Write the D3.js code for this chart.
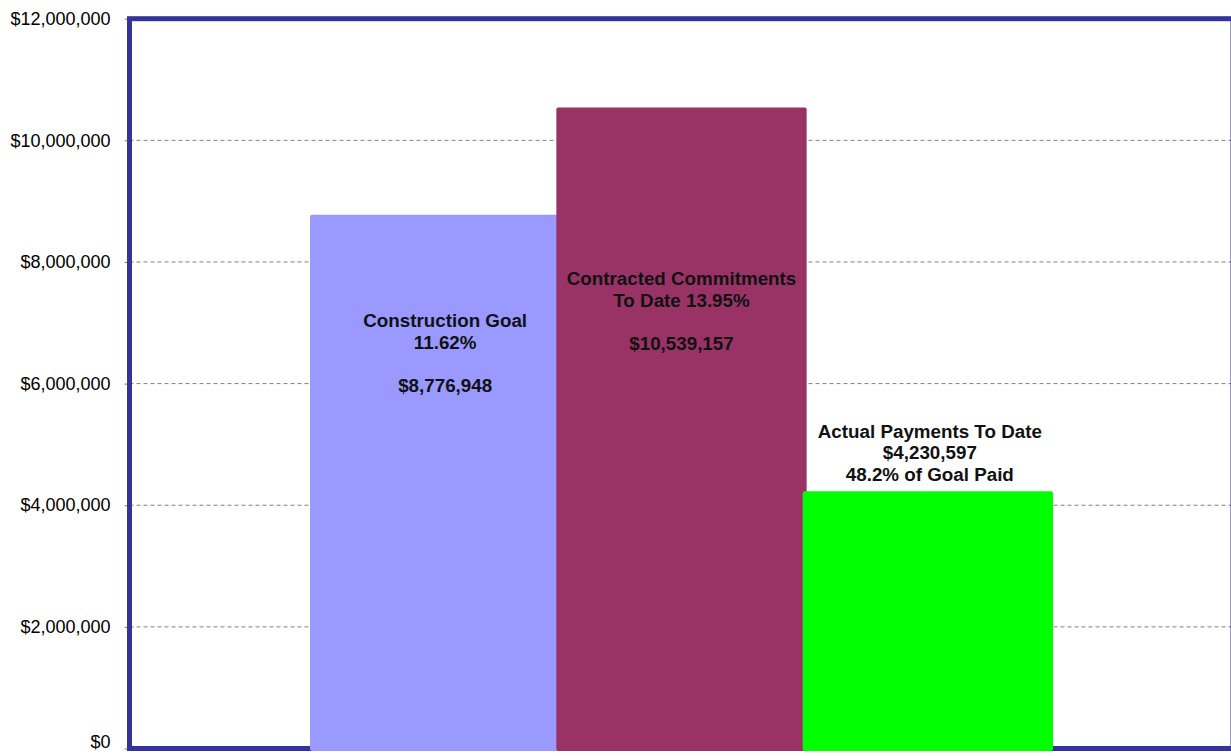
<!DOCTYPE html>
<html>
<head>
<meta charset="utf-8">
<script src="https://cdn.jsdelivr.net/npm/d3@7"></script>
<style>
  html, body { margin: 0; padding: 0; background: #fff; }
  svg { display: block; font-family: "Liberation Sans", Arial, sans-serif; }
</style>
</head>
<body>
<svg id="chart" width="1231" height="756"></svg>
<script>
// ---- data ----
const categories = ["Construction Goal", "Contracted Commitments", "Actual Payments"];
const values = [8776948, 10539157, 4230597];
const barColors = ["#9999FF", "#993366", "#00FF00"];
const labelLines = [
  ["Construction Goal", "11.62%", "", "$8,776,948"],
  ["Contracted Commitments", "To Date 13.95%", "", "$10,539,157"],
  ["Actual Payments To Date", "$4,230,597", "48.2% of Goal Paid"]
];
const tickValues = [0, 2000000, 4000000, 6000000, 8000000, 10000000, 12000000];

// ---- layout ----
const svg = d3.select("#chart");
const plot = { left: 129.5, top: 18.7, right: 1233, bottom: 748.5 };

const y = d3.scaleLinear().domain([0, 12000000]).range([plot.bottom, plot.top]);
const x = d3.scaleBand().domain(categories).range([312, 1051]).paddingInner(0).paddingOuter(0);

const fmt = v => "$" + d3.format(",")(v);

// gridlines
svg.append("g").selectAll("line").data(tickValues.filter(v => v > 0 && v < 12000000))
  .join("line")
  .attr("x1", plot.left).attr("x2", plot.right)
  .attr("y1", d => y(d)).attr("y2", d => y(d))
  .attr("stroke", "#808080").attr("stroke-width", 1)
  .attr("stroke-dasharray", "4,3");

// axis (ticks + labels)
const axis = d3.axisLeft(y).tickValues(tickValues).tickFormat(fmt).tickSize(5).tickPadding(14);
const gAxis = svg.append("g").attr("transform", `translate(${plot.left},0)`).call(axis);
gAxis.select(".domain").remove();
gAxis.selectAll(".tick line").attr("stroke", "#808080");
gAxis.selectAll(".tick text")
  .attr("font-size", "18px")
  .attr("fill", "#000")
  .attr("font-family", "'Liberation Sans', Arial, sans-serif")
  .attr("dy", d => d === 0 ? "-0.05em" : "0.32em");

// frame
svg.append("rect")
  .attr("x", plot.left).attr("y", plot.top)
  .attr("width", plot.right - plot.left).attr("height", plot.bottom - plot.top)
  .attr("fill", "none").attr("stroke", "#333399").attr("stroke-width", 5);

// bars
const overlap = 4;
svg.append("g").selectAll("rect").data(values)
  .join("rect")
  .attr("x", (d, i) => x(categories[i]) - overlap / 2)
  .attr("width", x.bandwidth() + overlap)
  .attr("y", d => y(d))
  .attr("height", d => plot.bottom + 2.5 - y(d))
  .attr("rx", 2)
  .attr("fill", (d, i) => barColors[i]);

// labels
const labelOffset = [106, 171, -60];
const labelDx = [10, 0, 2];
const lineH = 21.5;
const gl = svg.append("g");
values.forEach((v, i) => {
  const cx = x(categories[i]) + x.bandwidth() / 2 + labelDx[i];
  const y0 = y(v) + labelOffset[i];
  labelLines[i].forEach((t, k) => {
    if (!t) return;
    gl.append("text")
      .attr("x", cx).attr("y", y0 + k * lineH)
      .attr("text-anchor", "middle")
      .attr("dominant-baseline", "central")
      .attr("font-size", "18.8px")
      .attr("font-weight", "bold")
      .attr("fill", "#111")
      .text(t);
  });
});
</script>
</body>
</html>
